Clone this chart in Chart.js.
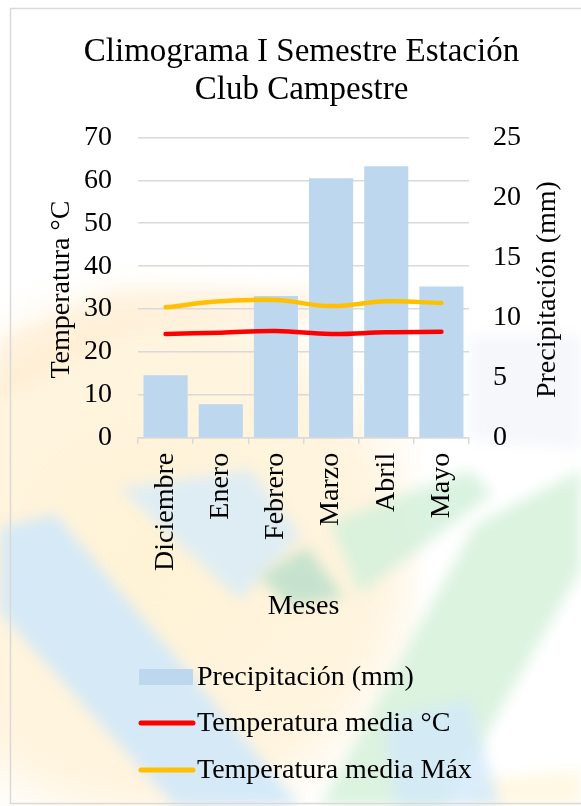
<!DOCTYPE html>
<html>
<head>
<meta charset="utf-8">
<title>Climograma I Semestre Estación Club Campestre</title>
<script src="https://cdn.jsdelivr.net/npm/chart.js@4/dist/chart.umd.min.js"></script>
<style>
  html, body { margin: 0; padding: 0; background: #ffffff; }
  #wrap { width: 581px; height: 806px; position: relative; }
  canvas { display: block; }
</style>
</head>
<body>
<div id="wrap"><canvas id="clima" width="581" height="806"></canvas></div>
<script>
// Datos del climograma
const meses = ['Diciembre', 'Enero', 'Febrero', 'Marzo', 'Abril', 'Mayo'];
const precipitacion = [5.2, 2.8, 11.8, 21.6, 22.6, 12.6];        // mm
const temperaturaMedia = [24.2, 24.5, 24.9, 24.2, 24.6, 24.7];   // °C
const temperaturaMediaMax = [30.4, 31.8, 32.1, 30.7, 31.8, 31.4]; // °C
const ticksTemperatura = [0, 10, 20, 30, 40, 50, 60, 70];
const ticksPrecipitacion = [0, 5, 10, 15, 20, 25];

const SERIF = "'Liberation Serif', 'Times New Roman', 'DejaVu Serif', serif";
const FONT_EJES = '28px ' + SERIF;

// Marca de agua del fondo y marco del gráfico
const fondo = {
  id: 'fondo',
  beforeDraw(chart) {
    const ctx = chart.ctx;
    ctx.save();
    ctx.fillStyle = '#ffffff';
    ctx.fillRect(0, 0, chart.width, chart.height);
    ctx.filter = 'blur(7px)';
    const poly = (pts, color) => {
      ctx.beginPath();
      ctx.moveTo(pts[0][0], pts[0][1]);
      for (let i = 1; i < pts.length; i++) ctx.lineTo(pts[i][0], pts[i][1]);
      ctx.closePath();
      ctx.fillStyle = color;
      ctx.fill();
    };
    // zona cálida a la izquierda
    const g = ctx.createRadialGradient(150, 560, 20, 150, 560, 300);
    g.addColorStop(0, 'rgba(255,242,210,0.9)');
    g.addColorStop(0.75, 'rgba(255,240,210,0.7)');
    g.addColorStop(1, 'rgba(255,245,225,0)');
    ctx.fillStyle = g;
    ctx.fillRect(-20, 270, 440, 560);
    poly([[0, 340], [110, 292], [330, 286], [335, 320], [130, 330], [0, 400]], 'rgba(255,228,195,0.35)');
    poly([[480, 780], [581, 770], [581, 806], [470, 806]], 'rgba(255,245,215,0.7)');
    // banda azul
    poly([[0, 528], [55, 514], [300, 806], [175, 806], [0, 612]], 'rgba(208,232,250,0.9)');
    poly([[120, 488], [250, 470], [300, 535], [240, 600]], 'rgba(214,235,250,0.8)');
    // formas verdes
    poly([[330, 522], [470, 470], [492, 494], [360, 594]], 'rgba(212,240,218,0.85)');
    poly([[307, 547], [344, 598], [289, 606], [259, 576]], 'rgba(192,224,204,0.9)');
    poly([[475, 525], [581, 470], [581, 570], [445, 806], [320, 806]], 'rgba(214,241,219,0.85)');
    // tonos azulados a la derecha y abajo
    poly([[470, 335], [581, 335], [581, 450], [470, 440]], 'rgba(232,237,246,0.45)');
    poly([[385, 720], [470, 700], [500, 806], [395, 806]], 'rgba(210,232,250,0.8)');
    ctx.filter = 'none';
    // marco
    ctx.strokeStyle = '#d9d9d9';
    ctx.lineWidth = 1.5;
    ctx.strokeRect(10.5, 8.5, 585, 795);
    ctx.restore();
  }
};

// Títulos de los ejes y leyenda vertical alineada a la izquierda
const rotulos = {
  id: 'rotulos',
  afterDraw(chart) {
    const ctx = chart.ctx;
    const area = chart.chartArea;
    ctx.save();
    ctx.font = FONT_EJES;
    ctx.fillStyle = '#000';
    ctx.textAlign = 'center';
    ctx.textBaseline = 'middle';
    const midY = (area.top + area.bottom) / 2 + 2;
    const vertical = (text, x) => {
      ctx.save();
      ctx.translate(x, midY);
      ctx.rotate(-Math.PI / 2);
      ctx.fillText(text, 0, 0);
      ctx.restore();
    };
    vertical('Temperatura °C', 62);
    vertical('Precipitación (mm)', 548);
    ctx.fillText('Meses', (area.left + area.right) / 2, 607);

    const x0 = 139, x1 = 193, rows = [677, 723, 770];
    ctx.textAlign = 'left';
    chart.data.datasets.forEach((ds, i) => {
      const y = rows[i];
      if (ds.type === 'bar') {
        ctx.fillStyle = ds.backgroundColor;
        ctx.fillRect(x0, y - 8, x1 - x0, 16);
      } else {
        ctx.strokeStyle = ds.borderColor;
        ctx.lineWidth = 5;
        ctx.lineCap = 'round';
        ctx.beginPath();
        ctx.moveTo(x0 + 2, y);
        ctx.lineTo(x1, y);
        ctx.stroke();
      }
      ctx.fillStyle = '#000';
      ctx.fillText(ds.label, 197, y + 1);
    });
    ctx.restore();
  }
};

new Chart(document.getElementById('clima'), {
  data: {
    labels: meses,
    datasets: [
      {
        type: 'bar',
        label: 'Precipitación (mm)',
        data: precipitacion,
        yAxisID: 'y1',
        backgroundColor: '#BDD7EE',
        barPercentage: 0.8,
        categoryPercentage: 1.0,
        order: 2
      },
      {
        type: 'line',
        label: 'Temperatura media °C',
        data: temperaturaMedia,
        yAxisID: 'y',
        borderColor: '#FF0000',
        borderWidth: 4.5,
        borderCapStyle: 'round',
        tension: 0.4,
        pointRadius: 0,
        order: 1
      },
      {
        type: 'line',
        label: 'Temperatura media Máx',
        data: temperaturaMediaMax,
        yAxisID: 'y',
        borderColor: '#FFC000',
        borderWidth: 4.5,
        borderCapStyle: 'round',
        tension: 0.4,
        pointRadius: 0,
        order: 1
      }
    ]
  },
  options: {
    responsive: false,
    animation: false,
    layout: { padding: { left: 58, right: 36, top: 33, bottom: 226 } },
    plugins: {
      legend: { display: false },
      tooltip: { enabled: false },
      title: {
        display: true,
        text: ['Climograma I Semestre Estación', 'Club Campestre'],
        color: '#000',
        font: { family: SERIF, size: 33, weight: 'normal', lineHeight: 1.15 },
        padding: { top: 0, bottom: 28.5 }
      }
    },
    scales: {
      x: {
        offset: true,
        grid: { offset: true, drawOnChartArea: false, color: '#d9d9d9', lineWidth: 1.5, tickLength: 6 },
        border: { color: '#d9d9d9', width: 1.5 },
        ticks: { color: '#000', font: { family: SERIF, size: 28 }, maxRotation: 90, minRotation: 90, padding: 9 }
      },
      y: {
        position: 'left',
        min: ticksTemperatura[0],
        max: ticksTemperatura[ticksTemperatura.length - 1],
        ticks: { stepSize: ticksTemperatura[1] - ticksTemperatura[0], color: '#000', font: { family: SERIF, size: 28 }, padding: 26 },
        grid: { color: '#d9d9d9', lineWidth: 1.5, drawTicks: false },
        border: { display: false }
      },
      y1: {
        position: 'right',
        min: ticksPrecipitacion[0],
        max: ticksPrecipitacion[ticksPrecipitacion.length - 1],
        ticks: { stepSize: ticksPrecipitacion[1] - ticksPrecipitacion[0], color: '#000', font: { family: SERIF, size: 28 }, padding: 24 },
        grid: { drawOnChartArea: false, drawTicks: false },
        border: { display: false }
      }
    }
  },
  plugins: [fondo, rotulos]
});
</script>
</body>
</html>
